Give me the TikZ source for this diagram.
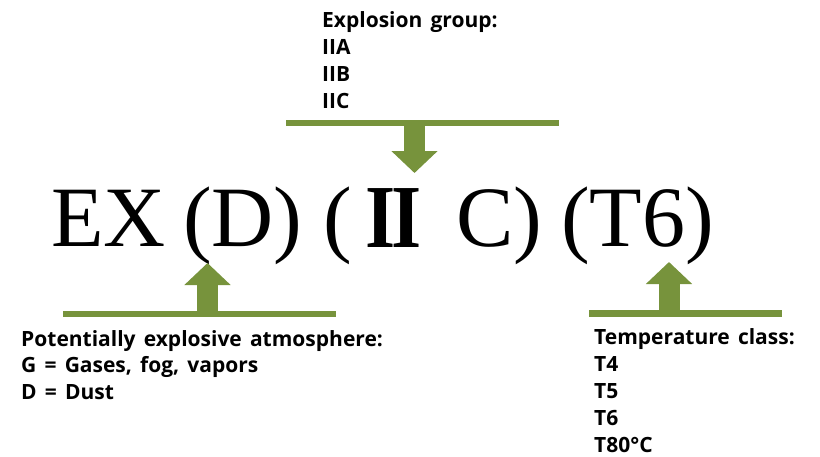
\documentclass[tikz,border=0pt]{standalone}
\usepackage{fontspec}
\setmainfont[WordSpace=1.5]{Open Sans}
\newfontfamily\bigserif{Liberation Serif}
\usetikzlibrary{arrows.meta}
\definecolor{exgreen}{RGB}{119,147,60}
\tikzset{
  lbl/.style={font=\bfseries\fontsize{21}{27}\selectfont, anchor=base west, inner sep=0pt},
  big/.style={font=\bigserif\fontsize{86}{90}\selectfont, anchor=base west, inner sep=0pt},
  greenbar/.style={fill=exgreen, draw=none, inner sep=0pt, minimum height=6pt},
  blockarrow/.style={draw=exgreen, line width=21pt, line cap=butt,
    -{Triangle[width=45pt,length=22pt]}},
}
\begin{document}
\begin{tikzpicture}[x=1pt,y=-1pt]
\useasboundingbox (0,0) rectangle (820,456);
% main text
\node[big] (ex) at (51,246) {EX};
\node[big] (d) at (183,246) {(D)};
\node[big] (lp) at (323,246) {(};
\node[anchor=base west, inner sep=0pt, font=\bigserif\bfseries\fontsize{90}{90}\selectfont] (two) at (365.5,247) {\scalebox{0.86}[1]{I\kern-5pt I}};
\node[big] (c) at (456,246) {C)};
\node[big] (t) at (561,246) {(T6)};
% top group
\node[lbl] (g0) at (322,27) {Explosion group:};
\node[lbl] (g1) at (322,54.5) {IIA};
\node[lbl] (g2) at (322,81.5) {IIB};
\node[lbl] (g3) at (322,108.5) {IIC};
\node[greenbar, minimum width=273pt] (bartop) at (422.5,122.5) {};
\coordinate (toptip) at (414.5,173);
\draw[blockarrow] (bartop.south -| toptip) -- (toptip);
% bottom left
\node[greenbar, minimum width=273pt] (barleft) at (199.5,314) {};
\coordinate (lefttip) at (207.5,263);
\draw[blockarrow] (barleft.north -| lefttip) -- (lefttip);
\node[lbl] (a0) at (21,346) {Potentially explosive atmosphere:};
\node[lbl] (a1) at (21,372.5) {G = Gases, fog, vapors};
\node[lbl] (a2) at (21,399) {D = Dust};
% bottom right
\node[greenbar, minimum width=193pt, minimum height=7pt] (barright) at (685.5,313.5) {};
\coordinate (righttip) at (669,262);
\draw[blockarrow] (barright.north -| righttip) -- (righttip);
\node[lbl] (b0) at (594,344.5) {Temperature class:};
\node[lbl] (b1) at (594,371.5) {T4};
\node[lbl] (b2) at (594,398.5) {T5};
\node[lbl] (b3) at (594,425.5) {T6};
\node[lbl] (b4) at (594,452) {T80°C};
\end{tikzpicture}
\end{document}
